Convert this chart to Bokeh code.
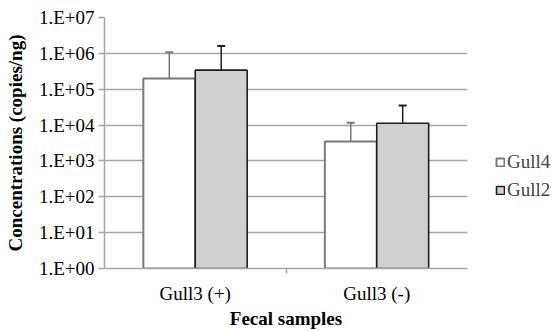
from bokeh.plotting import figure
from bokeh.models import (ColumnDataSource, FixedTicker, CustomJSTickFormatter, Whisker,
                          TeeHead, Legend, LegendItem, Range1d)
from bokeh.embed import file_html
from bokeh.resources import INLINE

categories = ["Gull3 (+)", "Gull3 (-)"]
series = ["Gull4", "Gull2"]
gull4 = [2.0e5, 3.5e3]
gull4_err_top = [1.07e6, 1.17e4]
gull2 = [3.4e5, 1.12e4]
gull2_err_top = [1.6e6, 3.5e4]
y_ticks = [1, 10, 100, 1e3, 1e4, 1e5, 1e6, 1e7]

FONT = "'Liberation Serif', 'Times New Roman', serif"
FS = "19px"
GRID = "#a6a6a6"

centers = [i + 0.5 for i in range(len(categories))]
bw = 0.286

p = figure(frame_width=363, frame_height=251, output_backend="svg", toolbar_location=None,
           y_axis_type="log", x_range=Range1d(0, len(categories)),
           y_range=Range1d(1, 1e7),
           min_border_left=104, min_border_right=86, min_border_top=17, min_border_bottom=63)
p.outline_line_color = None
p.background_fill_color = "white"

src4 = ColumnDataSource(dict(x=[c - bw / 2 for c in centers], top=gull4, lo=gull4, hi=gull4_err_top))
src2 = ColumnDataSource(dict(x=[c + bw / 2 for c in centers], top=gull2, lo=gull2, hi=gull2_err_top))

r4 = p.vbar(x="x", top="top", bottom=1, width=bw, source=src4,
            fill_color="white", line_color="#7a7a7a", line_width=2)
r2 = p.vbar(x="x", top="top", bottom=1, width=bw, source=src2,
            fill_color="#d0d0d0", line_color="#1e1e1e", line_width=1.6)

w4 = Whisker(base="x", lower="lo", upper="hi", source=src4, line_color="#7a7a7a", line_width=1.5,
             upper_head=TeeHead(size=8, line_color="#7a7a7a", line_width=2), lower_head=None)
w2 = Whisker(base="x", lower="lo", upper="hi", source=src2, line_color="#1e1e1e", line_width=1.5,
             upper_head=TeeHead(size=8, line_color="#1e1e1e", line_width=2), lower_head=None)
p.add_layout(w4)
p.add_layout(w2)

# y axis
p.yaxis.ticker = FixedTicker(ticks=y_ticks, minor_ticks=[])
p.yaxis.formatter = CustomJSTickFormatter(code="""
const e = Math.round(Math.log10(tick));
return "1.E+" + String(e).padStart(2, "0");
""")
p.yaxis.axis_label = "Concentrations (copies/ng)"
p.yaxis.axis_label_text_font = FONT
p.yaxis.axis_label_text_font_style = "bold"
p.yaxis.axis_label_text_font_size = FS
p.yaxis.axis_label_text_color = "black"
p.yaxis.axis_label_standoff = 10
p.yaxis.major_label_text_font = FONT
p.yaxis.major_label_text_font_size = FS
p.yaxis.major_label_text_color = "black"
p.yaxis.major_label_standoff = 4
p.yaxis.axis_line_color = GRID
p.yaxis.axis_line_width = 1.5
p.yaxis.major_tick_line_color = GRID
p.yaxis.major_tick_line_width = 1.5
p.yaxis.major_tick_out = 6
p.yaxis.major_tick_in = 0
p.yaxis.minor_tick_line_color = None

# x axis
p.xaxis.ticker = FixedTicker(ticks=centers, minor_ticks=[1.0])
p.xaxis.major_label_overrides = {c: lab for c, lab in zip(centers, categories)}
p.xaxis.axis_label = "Fecal samples"
p.xaxis.axis_label_text_font = FONT
p.xaxis.axis_label_text_font_style = "bold"
p.xaxis.axis_label_text_font_size = FS
p.xaxis.axis_label_text_color = "black"
p.xaxis.axis_label_standoff = 1
p.xaxis.major_label_text_font = FONT
p.xaxis.major_label_text_font_size = FS
p.xaxis.major_label_text_color = "black"
p.xaxis.major_label_standoff = 8
p.xaxis.axis_line_color = GRID
p.xaxis.axis_line_width = 1.5
p.xaxis.major_tick_line_color = None
p.xaxis.minor_tick_line_color = GRID
p.xaxis.minor_tick_line_width = 1.5
p.xaxis.minor_tick_out = 5
p.xaxis.minor_tick_in = 0

p.xgrid.visible = False
p.ygrid.grid_line_color = GRID
p.ygrid.grid_line_width = 1.5

legend = Legend(items=[LegendItem(label=series[0], renderers=[r4]),
                       LegendItem(label=series[1], renderers=[r2])],
                location=(28, 67), orientation="vertical",
                glyph_width=10, glyph_height=10, spacing=6, padding=0, margin=0,
                label_text_font=FONT, label_text_font_size=FS, label_standoff=2,
                border_line_color=None, background_fill_alpha=0)
p.add_layout(legend, "right")

open("out.html", "w").write(file_html(p, INLINE))
